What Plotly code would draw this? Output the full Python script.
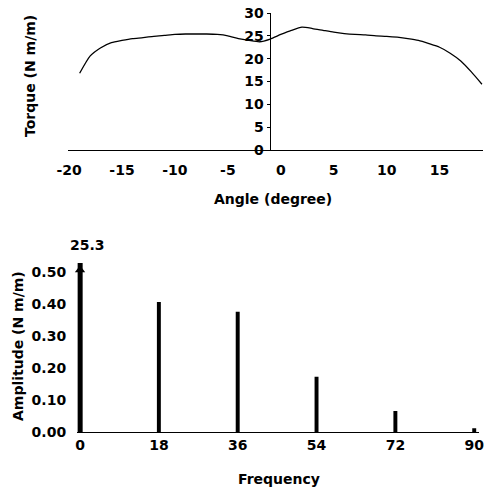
import plotly.graph_objects as go

# ---- data ----
angle = list(range(-19, 20))
torque = [16.8, 20.6, 22.4, 23.5, 24.0, 24.4, 24.6, 24.9, 25.1, 25.3,
          25.4, 25.4, 25.4, 25.3, 25.0, 24.4, 24.0, 23.7, 24.3, 25.3,
          26.2, 26.9, 26.6, 26.2, 25.8, 25.5, 25.3, 25.2, 25.0, 24.9,
          24.7, 24.4, 24.0, 23.3, 22.5, 21.2, 19.5, 17.1, 14.4]

freq = [0, 18, 36, 54, 72, 90]
amplitude = [25.3, 0.408, 0.377, 0.173, 0.066, 0.012]

angle_ticks = [-20, -15, -10, -5, 0, 5, 10, 15]
angle_labels = ["-20", "-15", "-10", "-5", "0", "5", "10", "15"]
torque_ticks = [0, 5, 10, 15, 20, 25, 30]
freq_ticks = [0, 18, 36, 54, 72, 90]
amp_ticks = [0.0, 0.1, 0.2, 0.3, 0.4, 0.5]

W, H = 485, 492
FONT = "DejaVu Sans"

def px(xp):
    return xp / W

def py(yp):
    return 1 - yp / H

# top plot geometry
x1_range = [-20.1, 19.1]
x1_dom = [px(68), px(483)]
y1_dom = [py(150), py(13)]
ycross1 = -1.05
pos1 = x1_dom[0] + (ycross1 - x1_range[0]) / (x1_range[1] - x1_range[0]) * (x1_dom[1] - x1_dom[0])

# bottom plot geometry
x2_range = [-0.6, 91]
x2_dom = [px(77.4), px(478.6)]
y2_dom = [py(432), py(263)]
amp_top = 0.53
pos2 = x2_dom[0] + (0 - x2_range[0]) / (x2_range[1] - x2_range[0]) * (x2_dom[1] - x2_dom[0])

fig = go.Figure()
fig.add_trace(go.Scatter(x=angle, y=torque, mode="lines",
                         line=dict(color="black", width=1.3, shape="spline", smoothing=0.6),
                         xaxis="x", yaxis="y", showlegend=False))

widths = [1.2 if f == 0 else 0.9 for f in freq]
fig.add_trace(go.Bar(x=freq, y=amplitude, width=widths, marker=dict(color="black", line=dict(width=0)),
                     xaxis="x2", yaxis="y2", showlegend=False))
# arrow head for the clipped DC component
fig.add_trace(go.Scatter(x=[freq[0]], y=[amp_top - 0.022], mode="markers",
                         marker=dict(symbol="triangle-up", size=9, color="black"),
                         cliponaxis=False, xaxis="x2", yaxis="y2", showlegend=False))

tickfont = dict(family=FONT, size=14, color="black", weight="bold")
titlefont = dict(family=FONT, size=14, color="black", weight="bold")

def ann(text, x, y, angle=0, xref="paper", xshift=0):
    return dict(text=text, xref=xref, yref="paper", x=x, y=y, xanchor="center", yanchor="middle",
                showarrow=False, textangle=angle, font=titlefont, xshift=xshift)

common = dict(showgrid=False, zeroline=False, showline=True, linecolor="black", linewidth=1.2,
              tickfont=tickfont, automargin=False)

fig.update_layout(
    width=W, height=H,
    margin=dict(l=0, r=0, t=0, b=0, pad=0),
    paper_bgcolor="white", plot_bgcolor="white",
    showlegend=False,
    font=dict(family=FONT, size=14, color="black", weight="bold"),
    xaxis=dict(domain=x1_dom, range=x1_range, anchor="y", tickvals=angle_ticks, ticktext=angle_labels,
               ticks="", ticklabelstandoff=7, **common),
    yaxis=dict(domain=y1_dom, range=[0, 30], anchor="free", position=pos1, tickvals=torque_ticks,
               ticks="outside", ticklen=3, tickcolor="black", **common),
    xaxis2=dict(domain=x2_dom, range=x2_range, anchor="y2", tickvals=freq_ticks,
                ticks="", ticklabelstandoff=0, **common),
    yaxis2=dict(domain=y2_dom, range=[0, amp_top], anchor="free", position=pos2, tickvals=amp_ticks,
                tickformat=".2f", ticks="", ticklabelstandoff=11, **common),
    annotations=[
        ann("Angle (degree)", px(273), py(199)),
        ann("Torque (N m/m)", px(30), py(76), angle=-90),
        ann("Frequency", px(279), py(479)),
        ann("Amplitude (N m/m)", px(18), py(346), angle=-90),
        ann(f"{amplitude[0]}", freq[0], py(245), xref="x2", xshift=7),
    ],
)

fig.write_html("out.html")
